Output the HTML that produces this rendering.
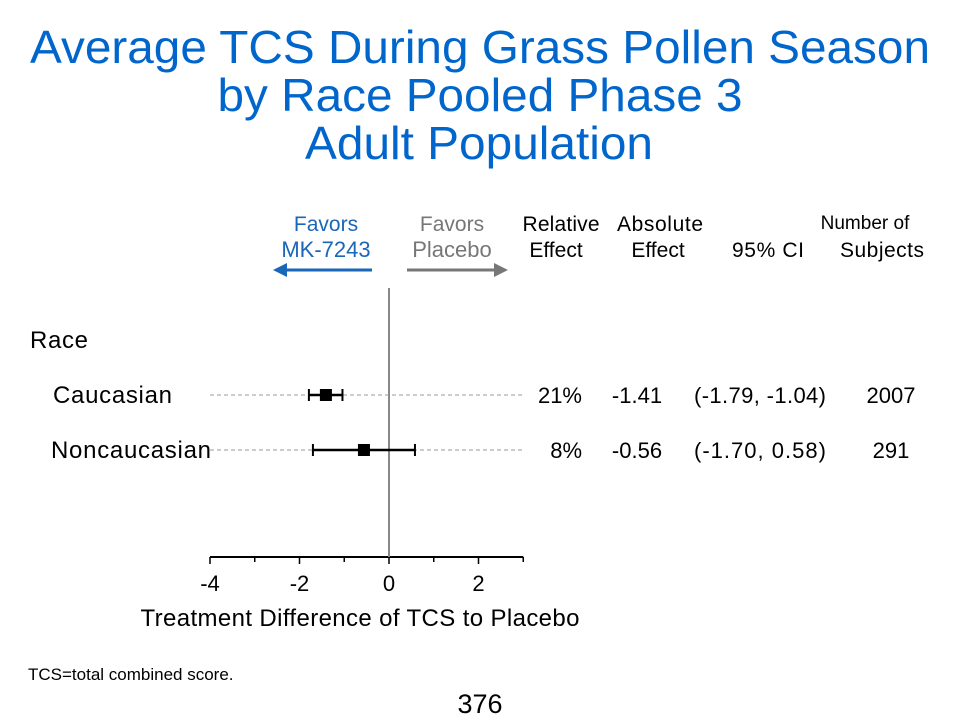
<!DOCTYPE html>
<html><head><meta charset="utf-8"><style>
body{margin:0;background:#fff;}
svg{display:block;font-family:"Liberation Sans",Arial,sans-serif;}
</style></head><body>
<svg width="960" height="720" id="chart">
<g fill="#0066cc" font-size="46" text-anchor="middle">
<text x="480" y="63" textLength="900" lengthAdjust="spacingAndGlyphs">Average TCS During Grass Pollen Season</text>
<text x="480" y="111" textLength="525" lengthAdjust="spacingAndGlyphs">by Race Pooled Phase 3</text>
<text x="479" y="159" textLength="348" lengthAdjust="spacingAndGlyphs">Adult Population</text>
</g>
<g font-size="21" text-anchor="middle">
<text x="326" y="231" fill="#1a66b8">Favors</text><text x="326" y="257" fill="#1a66b8" font-size="22">MK-7243</text>
<text x="452" y="231" fill="#777">Favors</text><text x="452" y="257" fill="#777" font-size="22">Placebo</text>
<text x="561" y="231" textLength="77">Relative</text><text x="556" y="257">Effect</text>
<text x="660" y="231" textLength="86">Absolute</text><text x="658" y="257">Effect</text>
<text x="768" y="257" textLength="72">95% CI</text>
<text x="865" y="229" font-size="19">Number of</text><text x="882" y="257" textLength="84">Subjects</text>
</g>
<g>
<line x1="372" y1="270" x2="285" y2="270" stroke="#1a66b8" stroke-width="3"/>
<polygon points="273,270 287,263 287,277" fill="#1a66b8"/>
<line x1="407" y1="270" x2="496" y2="270" stroke="#777" stroke-width="3"/>
<polygon points="508,270 494,263 494,277" fill="#777"/>
</g>
<text x="30" y="348" font-size="24" textLength="58">Race</text>
<g id="plot"></g>
<text x="360" y="626" font-size="24" text-anchor="middle" textLength="439">Treatment Difference of TCS to Placebo</text>
<text x="28" y="680" font-size="17">TCS=total combined score.</text>
<text x="480" y="713" font-size="27" text-anchor="middle">376</text>
</svg>
<script>
const categories=["Caucasian","Noncaucasian"];
const estimates=[-1.41,-0.56];
const lower=[-1.79,-1.70];
const upper=[-1.04,0.58];
const relative=["21%","8%"];
const ciText=["(-1.79,  -1.04)","(-1.70,   0.58)"];
const subjects=["2007","291"];
const ticks=[-4,-2,0,2];
const NS="http://www.w3.org/2000/svg";
const g=document.getElementById('plot');
const x=v=>389+(v-0)*44.75;
const rowY=i=>395+i*55;
function el(t,a,txt){const e=document.createElementNS(NS,t);for(const k in a)e.setAttribute(k,a[k]);if(txt!=null)e.textContent=txt;g.appendChild(e);return e;}
const axY=557;
let ax=el('line',{x1:x(-4),x2:x(3),y1:axY,y2:axY,stroke:'#000','stroke-width':2});


for(let v=-4;v<=3;v++){const t=el('line',{x1:x(v),x2:x(v),y1:axY,y2:axY+(v%2===0?7:5),stroke:'#000','stroke-width':1.5});

}
ticks.forEach(v=>{const t=el('text',{x:x(v),y:591,'font-size':22,'text-anchor':'middle'},String(v));

});
let ref=el('line',{x1:x(0),x2:x(0),y1:288,y2:axY,stroke:'#888','stroke-width':2});


categories.forEach((c,i)=>{const y=rowY(i);
let d=el('line',{x1:x(-4),x2:x(3),y1:y,y2:y,stroke:'#999','stroke-dasharray':'4,3','stroke-width':1});


let l=el('text',{x:i===0?53:51,y:y+8,'font-size':24,textLength:i===0?119:160},c);


let ci=el('line',{x1:x(lower[i]),x2:x(upper[i]),y1:y,y2:y,stroke:'#000','stroke-width':2.5});


[lower[i],upper[i]].forEach(v=>{const cap=el('line',{x1:x(v),x2:x(v),y1:y-6,y2:y+6,stroke:'#000','stroke-width':2});

});
let m=el('rect',{x:x(estimates[i])-6,y:y-6,width:12,height:12,fill:'#000'});


const vals=[[relative[i],582,'end'],[estimates[i].toFixed(2),637,'middle'],[ciText[i],694,'start'],[subjects[i],891,'middle']];
vals.forEach(([t,xx,an])=>{const e=el('text',{x:xx,y:y+8,'font-size':22,'text-anchor':an,'xml:space':'preserve'},t);
if(an==='start')e.setAttribute('textLength','132');

});
});
</script>
</body></html>
